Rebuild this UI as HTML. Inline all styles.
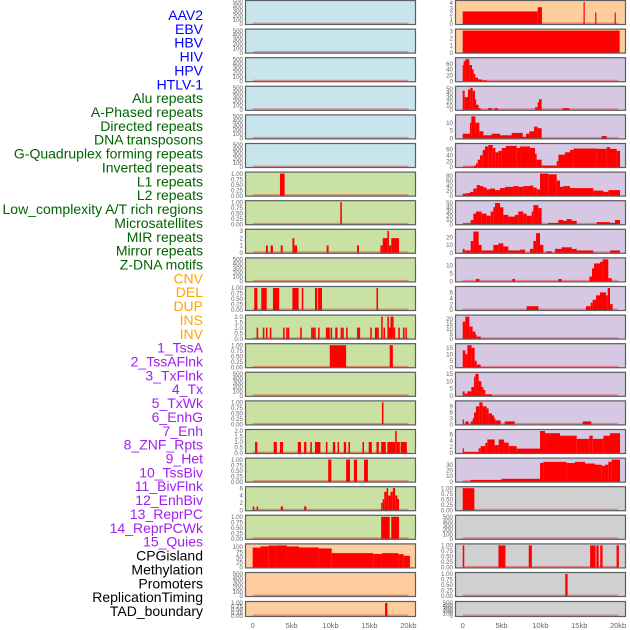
<!DOCTYPE html>
<html><head><meta charset="utf-8">
<style>
html,body{margin:0;padding:0;background:#fff;}
svg{display:block;font-family:"Liberation Sans",sans-serif;}
</style></head>
<body>
<svg id="chart" width="630" height="630" viewBox="0 0 630 630">
<g id="labels"></g>
<g id="panels"></g>
<g id="xaxes"></g>
</svg>
<script>
const trackLabels = ["AAV2","EBV","HBV","HIV","HPV","HTLV-1","Alu repeats","A-Phased repeats","Directed repeats","DNA transposons","G-Quadruplex forming repeats","Inverted repeats","L1 repeats","L2 repeats","Low_complexity A/T rich regions","Microsatellites","MIR repeats","Mirror repeats","Z-DNA motifs","CNV","DEL","DUP","INS","INV","1_TssA","2_TssAFlnk","3_TxFlnk","4_Tx","5_TxWk","6_EnhG","7_Enh","8_ZNF_Rpts","9_Het","10_TssBiv","11_BivFlnk","12_EnhBiv","13_ReprPC","14_ReprPCWk","15_Quies","CPGisland","Methylation","Promoters","ReplicationTiming","TAD_boundary"];
const labelColors = ["#0000ff","#006400","#ffa500","#a020f0","#000000"];
const labelGroupSizes = [6,13,5,15,5];
const xTickValues = [0,5,10,15,20];
const xTickLabels = ["0","5kb","10kb","15kb","20kb"];

const T500 = ["0","100","200","300","400","500"];
const T1 = ["0.00","0.25","0.50","0.75","1.00"];
const T2 = ["0.0","0.5","1.0","1.5","2.0"];

// left column data: [start_kb, end_kb, value]
const L6 = [[3.5,4.1,1]];
const L7 = [[11.25,11.45,1]];
const L8 = [[1.7,1.95,1],[2.3,2.6,1],[3.6,3.85,1],[5.1,5.35,2],[5.35,5.7,1],[9.5,9.75,1],[13.4,13.65,1],[16.4,16.7,1],[16.7,17.3,2],[17.3,17.5,3],[17.5,17.8,1],[17.8,18.8,2]];
const L10 = [[0.2,0.6,1],[1.1,1.8,1],[2.6,3.4,1],[5.1,5.9,1],[6.3,6.5,1],[8.0,8.3,1],[8.4,8.9,1],[15.9,16.1,1]];
const mirrorPos = [0.6,1.4,1.8,2.3,4.0,4.4,4.6,6.2,7.6,7.8,8.0,8.5,9.5,9.7,9.8,10.1,10.7,10.8,11.4,11.6,12.1,13.5,13.7,15.2,15.8,15.9,16.1,16.6,16.9,17.4,17.6,17.8,18.0,18.2,18.8,19.4,19.7];
const mirrorVal = [1,1,1,1,1,1,1,1,1,1,1,1,1,1,1,1,1,1,1,1,1,1,1,1,1,1,1,2,1,2,1,2,2,1,1,1,1];
const L12 = [[9.9,12.0,1],[17.6,18.0,1]];
const L14 = [[16.6,16.8,1]];
const L15 = [[0.3,0.6,1],[2.7,3.1,1],[3.5,3.9,1],[5.8,6.2,1],[6.6,6.9,1],[7.4,7.6,1],[8.0,8.7,1],[9.4,9.6,1],[10.3,10.6,1],[10.9,11.1,1],[11.7,12.0,1],[12.3,12.5,1],[14.1,14.3,1],[14.9,15.3,1],[15.9,16.2,1],[16.5,17.1,1],[17.3,18.3,1],[18.3,18.5,2],[18.5,18.9,1],[19.0,19.8,1]];
const L16 = [[9.7,10.1,1],[12.0,12.5,1],[13.0,13.4,1],[14.3,14.8,1]];
const L17 = [[0,0.2,1],[0.5,0.7,1],[3.6,3.9,1],[6.6,6.9,1],[16.5,16.7,2],[16.7,16.9,3],[16.9,17.2,5],[17.2,17.4,6],[17.4,17.7,4],[17.7,18.0,5],[18.0,18.3,6],[18.3,18.6,4],[18.6,18.8,3]];
const L18 = [[16.5,17.6,1],[17.8,18.8,1]];
const L19 = [[0,1,97],[1,2,103],[2,3,107],[3,4.4,108],[4.4,5.95,103],[5.95,8.5,98],[8.5,10.15,93],[10.15,15.5,70],[15.5,16.6,66],[16.6,18.7,70],[18.7,19.4,65],[19.4,20.2,57]];
const L21 = [[17.0,17.3,1]];

// right column data
const R0 = [[0,9.65,2.4],[9.65,10.2,3.2],[15.55,15.7,4.2],[17.05,17.2,2.2],[19.55,19.7,2.2]];
const R1 = [[0,20.2,3.1]];
const R2 = [[0,0.12,55],[0.12,0.34,68],[0.34,0.85,75],[0.85,1.2,55],[1.2,1.41,40],[1.41,1.63,25],[1.63,1.97,12],[1.97,2.44,6],[2.44,3.1,3]];
const R3 = [[0,0.25,45],[0.25,0.68,30],[0.68,0.98,48],[0.98,1.28,52],[1.28,1.58,45],[1.58,1.71,25],[1.71,2.05,12],[2.05,2.31,4],[3.26,3.77,4],[4.11,4.54,4],[9.31,9.65,6],[9.65,9.82,18],[9.82,10.16,25],[12.87,13.73,4]];
const R4 = [[0,0.94,3],[0.94,1.11,10],[1.11,1.63,14],[1.63,2.14,10],[2.14,2.66,4.5],[2.66,3.73,2],[3.73,4.8,3],[4.8,6.3,2],[6.3,7.72,3.5],[7.72,8.15,1],[8.15,8.58,3],[8.58,9.18,4.5],[9.18,9.65,7.5],[9.65,10.16,6.5],[17.89,18.53,1.5]];
const R5 = [[0,1.46,1],[1.46,1.71,5],[1.71,1.93,12],[1.93,2.23,25],[2.23,2.57,40],[2.57,2.87,58],[2.87,3.3,70],[3.3,3.86,75],[3.86,4.2,65],[4.2,4.59,50],[4.59,5.02,55],[5.02,5.57,65],[5.57,6.95,72],[6.95,7.38,65],[7.38,8.66,70],[8.66,9.31,65],[9.31,9.52,45],[9.52,10.16,25],[10.16,12.1,5],[12.1,12.31,20],[12.31,13.17,42],[13.17,13.81,50],[13.81,14.24,58],[14.24,17.24,63],[17.24,18.53,62],[18.53,18.96,68],[18.96,19.82,62],[19.82,20.25,55]];
const R6 = [[0,0.51,8],[0.51,0.94,10],[0.94,1.37,15],[1.37,1.8,28],[1.8,2.23,42],[2.23,2.66,38],[2.66,3.08,32],[3.08,3.51,25],[3.51,4.16,28],[4.16,4.8,22],[4.8,5.44,30],[5.44,6.52,35],[6.52,7.16,38],[7.16,7.8,35],[7.8,8.66,38],[8.66,9.09,40],[9.09,9.52,32],[9.52,9.95,25],[9.95,11.02,88],[11.02,12.1,85],[12.1,12.52,60],[12.52,12.96,35],[12.96,13.81,38],[13.81,16.81,30],[16.81,18.1,20],[18.1,18.74,15],[18.74,20.25,22]];
const R7 = [[0,1.03,2],[1.03,1.37,10],[1.37,1.71,25],[1.71,2.44,30],[2.44,3.08,25],[3.08,3.6,20],[3.6,3.94,30],[3.94,4.16,40],[4.16,4.8,50],[4.8,5.23,40],[5.23,5.87,22],[5.87,6.73,18],[6.73,7.16,22],[7.16,7.8,30],[7.8,8.23,25],[8.23,8.88,20],[8.88,9.09,30],[9.09,9.74,45],[9.74,10.16,38],[11.02,12.31,3],[12.31,12.96,10],[12.96,13.38,8],[13.38,14.03,12],[14.03,14.67,8],[17.24,18.96,5],[18.96,19.6,3],[19.6,20.25,10]];
const R8 = [[0,0.25,5],[0.25,1.03,3],[1.03,1.37,15],[1.37,2.05,27],[2.05,2.44,10],[2.44,3.94,3],[3.94,4.59,10],[4.59,5.23,12],[5.23,5.87,8],[5.87,7.38,3],[7.38,8.02,4],[8.66,9.09,5],[9.09,9.44,15],[9.44,9.95,25],[9.95,10.38,10],[10.81,11.45,2],[11.88,12.74,5],[12.74,14.03,7],[14.03,14.67,5],[14.67,16.81,3],[18.96,20.25,3]];
const R9 = [[1.71,2.14,1.5],[6.39,6.73,1.5],[12.31,12.74,1.5],[16.3,16.64,3],[16.64,16.9,8],[16.9,17.67,11],[17.67,18.01,12],[18.01,18.74,13.5],[18.74,19.17,2]];
const R10 = [[8.23,9.74,1.3],[15.87,16.47,1.3],[16.47,16.73,2.5],[16.73,17.16,3.5],[17.16,17.67,5],[17.67,18.44,6],[18.44,18.66,5],[18.66,18.96,7.5],[18.96,19.3,2]];
const R11 = [[0,0.34,17],[0.34,0.85,22],[0.85,1.28,12],[1.28,1.63,7],[1.63,1.8,4],[1.8,2.31,2]];
const R12 = [[0,0.34,13],[0.34,0.6,10],[0.6,1.15,17],[1.15,1.54,15],[1.54,1.8,5],[1.8,2.31,2]];
const R13 = [[0,0.25,3],[0.25,0.6,1.5],[0.6,1.11,3],[1.11,1.46,6],[1.46,1.63,13],[1.63,2.05,15],[2.05,2.4,10],[2.4,2.66,6],[2.66,2.91,4],[2.91,3.77,1]];
const R14 = [[0,0.08,2.5],[0.34,0.77,1.5],[1.03,1.28,1.5],[1.28,1.46,3],[1.46,1.71,6],[1.71,2.14,9],[2.14,2.57,11],[2.57,3.08,9],[3.08,3.34,8],[3.34,3.77,5.5],[3.77,4.03,4.5],[4.03,4.2,3],[4.2,4.89,2],[5.4,6.69,1.5],[15.44,16.55,1.5]];
const R15 = [[0,0.08,1.5],[0.08,2.05,0.3],[2.05,2.31,1.5],[2.31,2.91,2.2],[2.91,3.17,3.2],[3.17,4.11,4.3],[4.11,4.63,2.5],[4.63,5.32,4.3],[5.32,5.92,3.3],[5.92,6.95,2.2],[6.95,9.95,1.4],[9.95,10.6,7],[10.6,12.52,6.3],[12.52,14.67,5.5],[14.67,16.3,4.5],[16.3,16.73,5.5],[16.73,18.1,4.5],[18.1,18.96,5.5],[18.96,20.25,6.3]];
const R16 = [[0,1.0,0.5],[1.0,5.0,3],[5.0,9.95,5],[9.95,10.38,33],[10.38,13.38,35],[13.38,14.45,33],[14.45,15.74,35],[15.74,17.03,32],[17.03,17.89,30],[17.89,18.31,28],[18.31,18.74,30],[18.74,19.17,35],[19.17,20.25,39]];
const R17 = [[0,1.5,1]];
const R19 = [[0,0.2,1],[4.6,5.5,1],[8.5,8.9,1],[16.4,17.1,1],[17.2,17.5,1],[17.7,18.0,1],[19.8,20.1,1]];
const R20 = [[13.2,13.5,1]];

const L11 = mirrorPos.map((c,i)=>[c-0.1,c+0.1,mirrorVal[i]]);
const leftData = [[],[],[],[],[],[],L6,L7,L8,[],L10,L11,L12,[],L14,L15,L16,L17,L18,L19,[],L21];
const leftYmax = [500,500,500,500,500,500,1,1,3,500,1,2,1,500,1,2,1,6,1,108,500,1];
const leftTicks = [T500,T500,T500,T500,T500,T500,T1,T1,["0","1","2","3"],T500,T1,T2,T1,T500,T1,T2,T1,["0","2","4","6"],T1,["0","25","50","75","100"],T500,T1];
const rightData = [R0,R1,R2,R3,R4,R5,R6,R7,R8,R9,R10,R11,R12,R13,R14,R15,R16,R17,[],R19,R20,[]];
const rightYmax = [4.2,3.1,75,52,14,75,88,52,28,13.5,7.5,22,17,15,11,7,39,1,500,1,1,500];
const rightTicks = [["0","1","2","3","4"],["0","1","2","3"],["0","20","40","60"],["0","10","20","30","40","50"],["0","5","10"],["0","20","40","60"],["0","20","40","60","80"],["0","10","20","30","40","50"],["0","10","20"],["0","5","10"],["0","2","4","6"],["0","5","10","15","20"],["0","5","10","15"],["0","5","10","15"],["0","3","6","9"],["0","2","4","6"],["0","10","20","30"],T1,T500,T1,T1,T500];

const NS = "http://www.w3.org/2000/svg";
function mk(tag, attrs, parent){const e=document.createElementNS(NS,tag);for(const k in attrs)e.setAttribute(k,attrs[k]);parent.appendChild(e);return e;}
const xL = kb => 252.7 + kb*7.785;
const xR = kb => 462.7 + kb*7.77;
const rowTop = i => i===21 ? 601 : 28.6*i;
const rowH = i => i===21 ? 16 : 25;
function bgLeft(i){return i<6?"#c8e4ec":(i<19?"#c9e2a3":"#fecd9e");}
function bgRight(i){return i<2?"#fecd9e":(i<17?"#d6c8e3":"#d0d0d0");}

// labels
const lg = document.getElementById("labels");
let gi=0, cnt=0;
trackLabels.forEach((t,i)=>{
  if(cnt>=labelGroupSizes[gi]){gi++;cnt=0;}
  cnt++;
  const el = mk("text",{x:203,y:15+i*13.86+5,"text-anchor":"end","font-size":"14",fill:labelColors[gi]},lg);
  el.textContent=t;
  
  
});

const pg = document.getElementById("panels");
function drawPanel(i, side){
  const left = side==="left";
  const x0 = left?245:455, x1 = left?416:626;
  const sx = left?xL:xR;
  const top=rowTop(i), h=rowH(i), bot=top+h;
  const ymax = left?leftYmax[i]:rightYmax[i];
  const ticks = left?leftTicks[i]:rightTicks[i];
  const data = left?leftData[i]:rightData[i];
  const sy = v => bot-1 - v/ymax*(h-3);
  const g = mk("g",{},pg);
  
  
  const bg = mk("rect",{x:x0,y:top,width:x1-x0,height:h,fill:left?bgLeft(i):bgRight(i)},g);
  
  
  const base = mk("line",{x1:sx(0),x2:sx(20),y1:bot-1.5,y2:bot-1.5,stroke:"rgba(255,0,0,0.35)","stroke-width":2},g);
  
  
  data.forEach(d=>{
    const xa=sx(d[0]), xb=sx(d[1]);
    const y=Math.max(top+1,sy(d[2]));
    const r = mk("rect",{x:xa,y:y,width:Math.max(1.2,xb-xa),height:bot-1-y,fill:"#ff0000"},g);
    
    
  });
  mk("rect",{x:x0+0.5,y:top+0.5,width:x1-x0-1,height:h-1,fill:"none",stroke:"#5a5f63","stroke-width":1.2},g);
  ticks.forEach(t=>{
    const v=parseFloat(t);
    const tx = mk("text",{x:x0-2,y:sy(v)+2.2,"text-anchor":"end","font-size":"6.2",fill:"#666"},g);
    tx.textContent=t;
    
    
  });
}
for(let i=0;i<22;i++){drawPanel(i,"left");drawPanel(i,"right");}

const xg = document.getElementById("xaxes");
[xL,xR].forEach(sx=>{
  xTickValues.forEach((v,j)=>{
    const t = mk("text",{x:sx(v),y:628,"text-anchor":"middle","font-size":"7.5",fill:"#666"},xg);
    t.textContent=xTickLabels[j];
    
    
  });
});
</script>
</body></html>
